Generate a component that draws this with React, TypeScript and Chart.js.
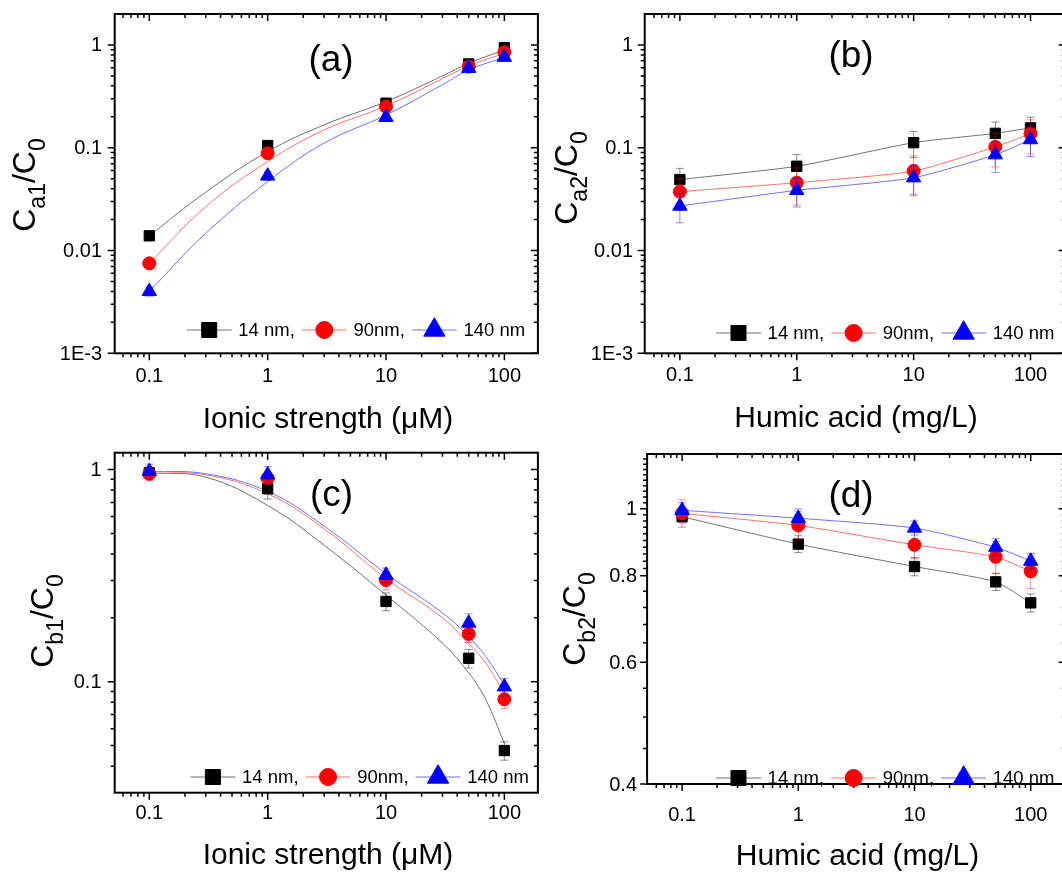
import React, { useEffect, useRef } from 'react';
import { Chart, registerables } from 'chart.js';

Chart.register(...registerables);

// ---------------- data ----------------
const xValues = [0.1, 1, 10, 50, 100];
const seriesLabels = ['14 nm,', '90nm,', '140 nm'];

const a14 = [0.0139, 0.105, 0.271, 0.653, 0.94];
const a90 = [0.0075, 0.0884, 0.251, 0.615, 0.849];
const a140 = [0.004, 0.0532, 0.198, 0.593, 0.76];
const a14Err = [0.0008, 0.006, 0.015, 0.035, 0.045];
const a90Err = [0.0005, 0.005, 0.015, 0.035, 0.045];
const a140Err = [0.0004, 0.005, 0.015, 0.035, 0.045];
const fitXa = [0.1, 0.3, 1, 3, 10, 30, 50, 100];
const a14Fit = [0.0139, 0.037, 0.0916, 0.167, 0.281, 0.5, 0.664, 0.894];
const a90Fit = [0.0075, 0.0267, 0.0733, 0.149, 0.255, 0.47, 0.625, 0.83];
const a140Fit = [0.004, 0.0147, 0.0468, 0.111, 0.208, 0.41, 0.571, 0.76];

// panel (b)
const b14 = [0.049, 0.066, 0.112, 0.138, 0.156];
const b90 = [0.0374, 0.0457, 0.0593, 0.102, 0.137];
const b140 = [0.0271, 0.0385, 0.0511, 0.0855, 0.12];
const b14Err = [0.014, 0.02, 0.032, 0.04, 0.042];
const b90Err = [0.013, 0.018, 0.024, 0.037, 0.05];
const b140Err = [0.0085, 0.012, 0.017, 0.028, 0.038];

// panel (c)
const c14 = [0.965, 0.811, 0.239, 0.129, 0.0474];
const c90 = [0.955, 0.91, 0.301, 0.168, 0.0827];
const c140 = [0.98, 0.944, 0.318, 0.189, 0.0947];
const c14Err = [0.06, 0.085, 0.023, 0.013, 0.0047];
const c90Err = [0.07, 0.05, 0.03, 0.015, 0.008];
const c140Err = [0.08, 0.09, 0.025, 0.02, 0.009];
const fitXc = [0.1, 0.3, 1, 3, 10, 30, 50, 70, 100];
const c14Fit = [0.965, 0.92, 0.677, 0.44, 0.256, 0.152, 0.11, 0.082, 0.051];
const c90Fit = [0.96, 0.944, 0.769, 0.526, 0.306, 0.2, 0.151, 0.122, 0.088];
const c140Fit = [0.98, 0.955, 0.789, 0.542, 0.323, 0.211, 0.163, 0.131, 0.0965];

// panel (d)
const d14 = [0.974, 0.889, 0.825, 0.784, 0.731];
const d90 = [0.985, 0.946, 0.887, 0.852, 0.812];
const d140 = [0.995, 0.969, 0.938, 0.88, 0.84];
const d14Err = [0.02, 0.025, 0.025, 0.022, 0.022];
const d90Err = [0.045, 0.045, 0.04, 0.045, 0.045];
const d140Err = [0.025, 0.03, 0.022, 0.025, 0.022];

const xTickValues = [0.1, 1, 10, 100];
const xTickLabels = ['0.1', '1', '10', '100'];
const yTicksAB = [0.001, 0.01, 0.1, 1];
const yTickLabelsAB = ['1E-3', '0.01', '0.1', '1'];
const yTicksC = [0.1, 1];
const yTickLabelsC = ['0.1', '1'];
const yTicksD = [0.4, 0.6, 0.8, 1];
const yTickLabelsD = ['0.4', '0.6', '0.8', '1'];
const yMinorD = [0.45, 0.5, 0.55, 0.64, 0.68, 0.72, 0.76, 0.82, 0.84, 0.86, 0.88, 0.9, 0.92, 0.94, 0.96, 0.98,
  1.02, 1.04, 1.06, 1.08, 1.1, 1.12, 1.14, 1.16, 1.18];

const titleIonic = 'Ionic strength (\u03bcM)';
const titleHumic = 'Humic acid (mg/L)';

// ---------------- styles ----------------
const FONT = '"Liberation Sans", Arial, Helvetica, sans-serif';
const CW = 1075;
const CH = 874;

const seriesStyles = [
  { fill: '#000000', line: '#707070', err: 'rgba(0,0,0,0.45)', style: 'rect', r: 7.3, lr: 10.6 },
  { fill: '#ff0000', line: '#ff7070', err: 'rgba(255,0,0,0.45)', style: 'circle', r: 6.5, lr: 8.5 },
  { fill: '#0000ff', line: '#7070ff', err: 'rgba(0,0,255,0.45)', style: 'triangle', r: 8.3, lr: 12.3 },
];

type PanelCfg = {
  area: { left: number; top: number; right: number; bottom: number };
  xMin: number; xMax: number; yMin: number; yMax: number;
  series: number[][]; errors: number[][];
  fitX: number[] | null; fits: number[][] | null;
  yTicks: number[]; yTickLabels: string[]; yMinor: number[] | null;
  yLabelRight: number; xLabelY: number;
  xTitle: string; xTitleX: number; xTitleY: number;
  ySub: string; yTitleX: number; yTitleY: number;
  tag: string; tagX: number; tagY: number;
  legX: number; legY: number;
};

const panels: PanelCfg[] = [
  {
    area: { left: 114.7, top: 14, right: 537.9, bottom: 353.3 },
    xMin: 0.051, xMax: 192, yMin: 0.001, yMax: 2,
    series: [a14, a90, a140], errors: [a14Err, a90Err, a140Err],
    fitX: fitXa, fits: [a14Fit, a90Fit, a140Fit],
    yTicks: yTicksAB, yTickLabels: yTickLabelsAB, yMinor: null,
    yLabelRight: 102, xLabelY: 376,
    xTitle: titleIonic, xTitleX: 328, xTitleY: 428,
    ySub: 'a1', yTitleX: 35, yTitleY: 185,
    tag: '(a)', tagX: 331, tagY: 61,
    legX: 186.7, legY: 330,
  },
  {
    area: { left: 644.7, top: 14, right: 1066, bottom: 353.3 },
    xMin: 0.05, xMax: 200, yMin: 0.001, yMax: 2,
    series: [b14, b90, b140], errors: [b14Err, b90Err, b140Err],
    fitX: null, fits: null,
    yTicks: yTicksAB, yTickLabels: yTickLabelsAB, yMinor: null,
    yLabelRight: 633, xLabelY: 375,
    xTitle: titleHumic, xTitleX: 856, xTitleY: 427,
    ySub: 'a2', yTitleX: 577, yTitleY: 178,
    tag: '(b)', tagX: 851, tagY: 57,
    legX: 716, legY: 333,
  },
  {
    area: { left: 114.7, top: 452.7, right: 537.9, bottom: 792.7 },
    xMin: 0.051, xMax: 192, yMin: 0.03, yMax: 1.2,
    series: [c14, c90, c140], errors: [c14Err, c90Err, c140Err],
    fitX: fitXc, fits: [c14Fit, c90Fit, c140Fit],
    yTicks: yTicksC, yTickLabels: yTickLabelsC, yMinor: null,
    yLabelRight: 101.5, xLabelY: 813,
    xTitle: titleIonic, xTitleX: 328, xTitleY: 864,
    ySub: 'b1', yTitleX: 53, yTitleY: 621,
    tag: '(c)', tagX: 331.5, tagY: 496,
    legX: 190.4, legY: 777,
  },
  {
    area: { left: 647.1, top: 454, right: 1067, bottom: 784 },
    xMin: 0.05, xMax: 200, yMin: 0.4, yMax: 1.2,
    series: [d14, d90, d140], errors: [d14Err, d90Err, d140Err],
    fitX: null, fits: null,
    yTicks: yTicksD, yTickLabels: yTickLabelsD, yMinor: yMinorD,
    yLabelRight: 637, xLabelY: 815,
    xTitle: titleHumic, xTitleX: 857.5, xTitleY: 865,
    ySub: 'b2', yTitleX: 585, yTitleY: 619,
    tag: '(d)', tagX: 851, tagY: 497,
    legX: 716, legY: 778,
  },
];

function logMinors(min: number, max: number): number[] {
  const out: number[] = [];
  const e0 = Math.floor(Math.log10(min));
  const e1 = Math.ceil(Math.log10(max));
  for (let e = e0; e <= e1; e++) {
    for (let k = 2; k <= 9; k++) {
      const v = k * Math.pow(10, e);
      if (v > min * 1.0001 && v < max * 0.9999) out.push(v);
    }
  }
  return out;
}

function drawMarker(ctx: CanvasRenderingContext2D, style: string, x: number, y: number, r: number, color: string) {
  ctx.save();
  ctx.fillStyle = color;
  ctx.strokeStyle = color;
  ctx.lineWidth = 1;
  ctx.beginPath();
  if (style === 'rect') {
    const s = r * Math.SQRT1_2;
    ctx.rect(x - s, y - s, 2 * s, 2 * s);
  } else if (style === 'circle') {
    ctx.arc(x, y, r, 0, Math.PI * 2);
  } else {
    for (let k = 0; k < 3; k++) {
      const a = -Math.PI / 2 + (k * 2 * Math.PI) / 3;
      const px = x + r * Math.cos(a);
      const py = y + r * Math.sin(a);
      if (k === 0) ctx.moveTo(px, py); else ctx.lineTo(px, py);
    }
    ctx.closePath();
  }
  ctx.fill();
  ctx.stroke();
  ctx.restore();
}

function makePlugin(cfg: PanelCfg) {
  return {
    id: 'panelDecor',
    beforeDatasetDraw(chart: any, args: any) {
      const ds = chart.data.datasets[args.index];
      if (ds.kind !== 'marker') return;
      const i = ds.seriesIndex;
      const ctx: CanvasRenderingContext2D = chart.ctx;
      const xs = chart.scales.x;
      const ys = chart.scales.y;
      const vals = cfg.series[i];
      const errs = cfg.errors[i];
      ctx.save();
      ctx.strokeStyle = seriesStyles[i].err;
      ctx.lineWidth = 1;
      for (let j = 0; j < xValues.length; j++) {
        const px = xs.getPixelForValue(xValues[j]);
        const top = ys.getPixelForValue(vals[j] + errs[j]);
        const lowV = Math.max(vals[j] - errs[j], cfg.yMin * 0.5);
        const bot = ys.getPixelForValue(lowV);
        ctx.beginPath();
        ctx.moveTo(px, top); ctx.lineTo(px, bot);
        ctx.moveTo(px - 4, top); ctx.lineTo(px + 4, top);
        ctx.moveTo(px - 4, bot); ctx.lineTo(px + 4, bot);
        ctx.stroke();
      }
      ctx.restore();
    },
    afterDraw(chart: any) {
      const ctx: CanvasRenderingContext2D = chart.ctx;
      const xs = chart.scales.x;
      const ys = chart.scales.y;
      const { left, top, right, bottom } = chart.chartArea;
      ctx.save();
      // frame
      ctx.strokeStyle = '#000';
      ctx.lineWidth = 2;
      ctx.strokeRect(left, top, right - left, bottom - top);
      // ticks
      ctx.lineWidth = 1.5;
      ctx.beginPath();
      const xMinor = logMinors(cfg.xMin, cfg.xMax);
      const drawX = (v: number, len: number) => {
        const p = xs.getPixelForValue(v);
        ctx.moveTo(p, bottom); ctx.lineTo(p, bottom + len);
        ctx.moveTo(p, top); ctx.lineTo(p, top + len);
      };
      xTickValues.forEach((v) => drawX(v, 7));
      xMinor.forEach((v) => drawX(v, 4));
      const yMinor = cfg.yMinor ? cfg.yMinor : logMinors(cfg.yMin, cfg.yMax);
      const drawY = (v: number, len: number) => {
        const p = ys.getPixelForValue(v);
        ctx.moveTo(left, p); ctx.lineTo(left - len, p);
        ctx.moveTo(right, p); ctx.lineTo(right - len, p);
      };
      cfg.yTicks.forEach((v) => drawY(v, 7));
      yMinor.forEach((v) => drawY(v, 4));
      ctx.stroke();

      // tick labels
      ctx.fillStyle = '#000';
      ctx.font = `20px ${FONT}`;
      ctx.textAlign = 'center';
      ctx.textBaseline = 'middle';
      xTickValues.forEach((v, k) => {
        ctx.fillText(xTickLabels[k], xs.getPixelForValue(v), cfg.xLabelY);
      });
      ctx.textAlign = 'right';
      cfg.yTicks.forEach((v, k) => {
        ctx.fillText(cfg.yTickLabels[k], cfg.yLabelRight, ys.getPixelForValue(v) + 1);
      });

      // x title
      ctx.font = `30px ${FONT}`;
      ctx.textAlign = 'center';
      ctx.textBaseline = 'alphabetic';
      ctx.fillText(cfg.xTitle, cfg.xTitleX, cfg.xTitleY);

      // y title with subscripts
      ctx.save();
      ctx.translate(cfg.yTitleX, cfg.yTitleY);
      ctx.rotate(-Math.PI / 2);
      ctx.textAlign = 'left';
      const big = `32px ${FONT}`;
      const small = `23px ${FONT}`;
      const parts = [
        { t: 'C', f: big, dy: 0 },
        { t: cfg.ySub, f: small, dy: 10 },
        { t: '/C', f: big, dy: 0 },
        { t: '0', f: small, dy: 10 },
      ];
      let total = 0;
      parts.forEach((p) => { ctx.font = p.f; total += ctx.measureText(p.t).width; });
      let cx = -total / 2;
      parts.forEach((p) => {
        ctx.font = p.f;
        ctx.fillText(p.t, cx, p.dy);
        cx += ctx.measureText(p.t).width;
      });
      ctx.restore();

      // panel tag
      ctx.font = `37px ${FONT}`;
      ctx.textAlign = 'center';
      ctx.textBaseline = 'middle';
      ctx.fillText(cfg.tag, cfg.tagX, cfg.tagY);

      // legend
      ctx.font = `18.5px ${FONT}`;
      ctx.textAlign = 'left';
      ctx.textBaseline = 'middle';
      let lx = cfg.legX;
      const ly = cfg.legY;
      seriesLabels.forEach((lab, i) => {
        const st = seriesStyles[i];
        ctx.strokeStyle = st.line;
        ctx.lineWidth = 1;
        ctx.beginPath();
        ctx.moveTo(lx, ly); ctx.lineTo(lx + 45, ly);
        ctx.stroke();
        drawMarker(ctx, st.style, lx + 22.5, ly, st.lr, st.fill);
        ctx.fillStyle = '#000';
        ctx.fillText(lab, lx + 51.6, ly + 1);
        lx = lx + 51.6 + ctx.measureText(lab).width + 7;
      });
      ctx.restore();
    },
  };
}

function Panel({ cfg }: { cfg: PanelCfg }) {
  const ref = useRef<HTMLCanvasElement | null>(null);
  useEffect(() => {
    const canvas = ref.current;
    if (!canvas) return;
    const datasets: any[] = [];
    cfg.series.forEach((vals, i) => {
      const st = seriesStyles[i];
      const lineX = cfg.fitX ? cfg.fitX : xValues;
      const lineY = cfg.fits ? cfg.fits[i] : vals;
      datasets.push({
        kind: 'line',
        seriesIndex: i,
        label: seriesLabels[i] + ' curve',
        data: lineX.map((x, j) => ({ x, y: lineY[j] })),
        borderColor: st.line,
        borderWidth: 1,
        pointRadius: 0,
        tension: cfg.fits ? 0.4 : 0.2,
        fill: false,
        order: 10 - i,
        clip: 20,
      });
      datasets.push({
        kind: 'marker',
        seriesIndex: i,
        label: seriesLabels[i],
        data: xValues.map((x, j) => ({ x, y: vals[j] })),
        showLine: false,
        borderColor: st.line,
        backgroundColor: st.fill,
        pointStyle: st.style,
        pointRadius: st.r,
        pointBackgroundColor: st.fill,
        pointBorderColor: st.fill,
        pointBorderWidth: 1,
        order: 3 - i,
        clip: 20,
      });
    });
    const chart = new Chart(canvas, {
      type: 'line',
      data: { datasets } as any,
      options: {
        animation: false,
        responsive: false,
        maintainAspectRatio: false,
        events: [],
        layout: {
          padding: {
            left: cfg.area.left,
            top: cfg.area.top,
            right: CW - cfg.area.right,
            bottom: CH - cfg.area.bottom,
          },
        },
        scales: {
          x: { type: 'logarithmic', min: cfg.xMin, max: cfg.xMax, display: false },
          y: { type: 'logarithmic', min: cfg.yMin, max: cfg.yMax, display: false },
        },
        plugins: { legend: { display: false }, tooltip: { enabled: false } },
      } as any,
      plugins: [makePlugin(cfg)],
    });
    return () => chart.destroy();
  }, [cfg]);
  return (
    <canvas
      ref={ref}
      width={CW}
      height={CH}
      style={{ position: 'absolute', left: 0, top: 0, width: CW, height: CH }}
    />
  );
}

export default function App() {
  return (
    <div
      style={{
        position: 'absolute',
        left: 0,
        top: 0,
        width: 1062,
        height: 874,
        overflow: 'hidden',
        background: '#ffffff',
      }}
    >
      {panels.map((p, i) => (
        <Panel key={i} cfg={p} />
      ))}
    </div>
  );
}
